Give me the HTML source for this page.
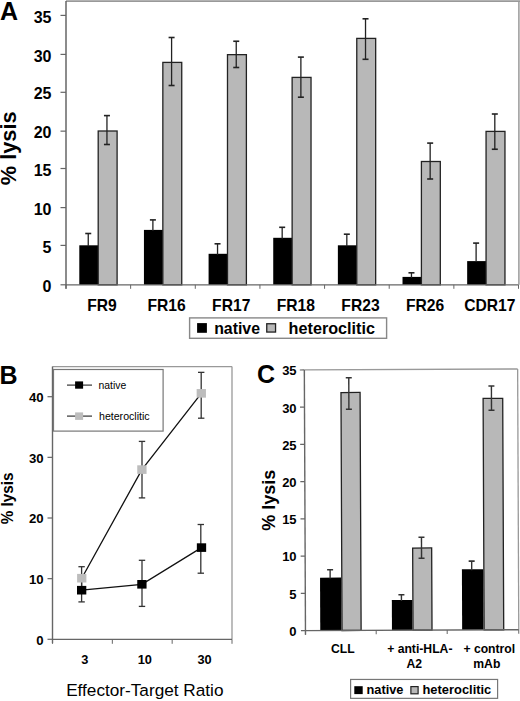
<!DOCTYPE html>
<html><head><meta charset="utf-8"><style>
html,body{margin:0;padding:0;background:#fff;}
body{width:520px;height:701px;overflow:hidden;}
svg{display:block;font-family:"Liberation Sans", sans-serif;}
</style></head><body>
<svg width="520" height="701" viewBox="0 0 520 701" font-family='"Liberation Sans", sans-serif' fill="#000">
<rect width="520" height="701" fill="#fff"/>
<line x1="66" y1="1.1" x2="520" y2="1.1" stroke="#999" stroke-width="1.6"/>
<line x1="518.9" y1="1.1" x2="518.9" y2="284.8" stroke="#999" stroke-width="1.5"/>
<rect x="79.30" y="245.30" width="18.9" height="39.50" fill="#000"/>
<line x1="88.25" y1="233.50" x2="88.25" y2="246.30" stroke="#222" stroke-width="1.3"/>
<line x1="85.25" y1="233.50" x2="91.25" y2="233.50" stroke="#222" stroke-width="1.6"/>
<rect x="98.20" y="131.00" width="18.9" height="153.80" fill="#b8b8b8" stroke="#222" stroke-width="1.3"/>
<line x1="106.95" y1="115.60" x2="106.95" y2="144.50" stroke="#222" stroke-width="1.3"/>
<line x1="103.95" y1="115.60" x2="109.95" y2="115.60" stroke="#222" stroke-width="1.6"/>
<line x1="103.95" y1="144.50" x2="109.95" y2="144.50" stroke="#222" stroke-width="1.6"/>
<text transform="translate(101.92,311.1)" font-size="15.65" font-weight="bold" text-anchor="middle">FR9</text>
<rect x="143.94" y="229.90" width="18.9" height="54.90" fill="#000"/>
<line x1="152.89" y1="219.90" x2="152.89" y2="230.90" stroke="#222" stroke-width="1.3"/>
<line x1="149.89" y1="219.90" x2="155.89" y2="219.90" stroke="#222" stroke-width="1.6"/>
<rect x="162.84" y="62.40" width="18.9" height="222.40" fill="#b8b8b8" stroke="#222" stroke-width="1.3"/>
<line x1="171.59" y1="37.50" x2="171.59" y2="85.50" stroke="#222" stroke-width="1.3"/>
<line x1="168.59" y1="37.50" x2="174.59" y2="37.50" stroke="#222" stroke-width="1.6"/>
<line x1="168.59" y1="85.50" x2="174.59" y2="85.50" stroke="#222" stroke-width="1.6"/>
<text transform="translate(166.56,311.1)" font-size="15.65" font-weight="bold" text-anchor="middle">FR16</text>
<rect x="208.59" y="253.80" width="18.9" height="31.00" fill="#000"/>
<line x1="217.54" y1="243.80" x2="217.54" y2="254.80" stroke="#222" stroke-width="1.3"/>
<line x1="214.54" y1="243.80" x2="220.54" y2="243.80" stroke="#222" stroke-width="1.6"/>
<rect x="227.49" y="54.65" width="18.9" height="230.15" fill="#b8b8b8" stroke="#222" stroke-width="1.3"/>
<line x1="236.24" y1="41.25" x2="236.24" y2="67.50" stroke="#222" stroke-width="1.3"/>
<line x1="233.24" y1="41.25" x2="239.24" y2="41.25" stroke="#222" stroke-width="1.6"/>
<line x1="233.24" y1="67.50" x2="239.24" y2="67.50" stroke="#222" stroke-width="1.6"/>
<text transform="translate(231.21,311.1)" font-size="15.65" font-weight="bold" text-anchor="middle">FR17</text>
<rect x="273.23" y="237.80" width="18.9" height="47.00" fill="#000"/>
<line x1="282.18" y1="227.30" x2="282.18" y2="238.80" stroke="#222" stroke-width="1.3"/>
<line x1="279.18" y1="227.30" x2="285.18" y2="227.30" stroke="#222" stroke-width="1.6"/>
<rect x="292.13" y="77.40" width="18.9" height="207.40" fill="#b8b8b8" stroke="#222" stroke-width="1.3"/>
<line x1="300.88" y1="57.10" x2="300.88" y2="97.20" stroke="#222" stroke-width="1.3"/>
<line x1="297.88" y1="57.10" x2="303.88" y2="57.10" stroke="#222" stroke-width="1.6"/>
<line x1="297.88" y1="97.20" x2="303.88" y2="97.20" stroke="#222" stroke-width="1.6"/>
<text transform="translate(295.85,311.1)" font-size="15.65" font-weight="bold" text-anchor="middle">FR18</text>
<rect x="337.87" y="245.30" width="18.9" height="39.50" fill="#000"/>
<line x1="346.82" y1="234.20" x2="346.82" y2="246.30" stroke="#222" stroke-width="1.3"/>
<line x1="343.82" y1="234.20" x2="349.82" y2="234.20" stroke="#222" stroke-width="1.6"/>
<rect x="356.77" y="38.40" width="18.9" height="246.40" fill="#b8b8b8" stroke="#222" stroke-width="1.3"/>
<line x1="365.52" y1="18.80" x2="365.52" y2="59.30" stroke="#222" stroke-width="1.3"/>
<line x1="362.52" y1="18.80" x2="368.52" y2="18.80" stroke="#222" stroke-width="1.6"/>
<line x1="362.52" y1="59.30" x2="368.52" y2="59.30" stroke="#222" stroke-width="1.6"/>
<text transform="translate(360.49,311.1)" font-size="15.65" font-weight="bold" text-anchor="middle">FR23</text>
<rect x="402.51" y="276.90" width="18.9" height="7.90" fill="#000"/>
<line x1="411.46" y1="272.80" x2="411.46" y2="277.90" stroke="#222" stroke-width="1.3"/>
<line x1="408.46" y1="272.80" x2="414.46" y2="272.80" stroke="#222" stroke-width="1.6"/>
<rect x="421.41" y="161.50" width="18.9" height="123.30" fill="#b8b8b8" stroke="#222" stroke-width="1.3"/>
<line x1="430.16" y1="143.10" x2="430.16" y2="179.00" stroke="#222" stroke-width="1.3"/>
<line x1="427.16" y1="143.10" x2="433.16" y2="143.10" stroke="#222" stroke-width="1.6"/>
<line x1="427.16" y1="179.00" x2="433.16" y2="179.00" stroke="#222" stroke-width="1.6"/>
<text transform="translate(425.14,311.1)" font-size="15.65" font-weight="bold" text-anchor="middle">FR26</text>
<rect x="467.16" y="261.10" width="18.9" height="23.70" fill="#000"/>
<line x1="476.11" y1="243.10" x2="476.11" y2="262.10" stroke="#222" stroke-width="1.3"/>
<line x1="473.11" y1="243.10" x2="479.11" y2="243.10" stroke="#222" stroke-width="1.6"/>
<rect x="486.06" y="131.40" width="18.9" height="153.40" fill="#b8b8b8" stroke="#222" stroke-width="1.3"/>
<line x1="494.81" y1="114.00" x2="494.81" y2="149.25" stroke="#222" stroke-width="1.3"/>
<line x1="491.81" y1="114.00" x2="497.81" y2="114.00" stroke="#222" stroke-width="1.6"/>
<line x1="491.81" y1="149.25" x2="497.81" y2="149.25" stroke="#222" stroke-width="1.6"/>
<text transform="translate(489.78,311.1)" font-size="15.65" font-weight="bold" text-anchor="middle">CDR17</text>
<line x1="66" y1="1.1" x2="66" y2="288.8" stroke="#666" stroke-width="1.5"/>
<line x1="66" y1="284.8" x2="518.5" y2="284.8" stroke="#666" stroke-width="1.3"/>
<line x1="66.00" y1="284.8" x2="66.00" y2="288.8" stroke="#666" stroke-width="1"/>
<line x1="130.64" y1="284.8" x2="130.64" y2="288.8" stroke="#666" stroke-width="1"/>
<line x1="195.29" y1="284.8" x2="195.29" y2="288.8" stroke="#666" stroke-width="1"/>
<line x1="259.93" y1="284.8" x2="259.93" y2="288.8" stroke="#666" stroke-width="1"/>
<line x1="324.57" y1="284.8" x2="324.57" y2="288.8" stroke="#666" stroke-width="1"/>
<line x1="389.21" y1="284.8" x2="389.21" y2="288.8" stroke="#666" stroke-width="1"/>
<line x1="453.86" y1="284.8" x2="453.86" y2="288.8" stroke="#666" stroke-width="1"/>
<line x1="518.50" y1="284.8" x2="518.50" y2="288.8" stroke="#666" stroke-width="1"/>
<line x1="60.5" y1="284.80" x2="66" y2="284.80" stroke="#666" stroke-width="1.2"/>
<text x="51.5" y="291.90" font-size="16" font-weight="bold" text-anchor="end">0</text>
<line x1="60.5" y1="245.40" x2="66" y2="245.40" stroke="#666" stroke-width="1.2"/>
<text x="51.5" y="252.50" font-size="16" font-weight="bold" text-anchor="end">5</text>
<line x1="60.5" y1="207.60" x2="66" y2="207.60" stroke="#666" stroke-width="1.2"/>
<text x="51.5" y="214.70" font-size="16" font-weight="bold" text-anchor="end">10</text>
<line x1="60.5" y1="168.50" x2="66" y2="168.50" stroke="#666" stroke-width="1.2"/>
<text x="51.5" y="175.60" font-size="16" font-weight="bold" text-anchor="end">15</text>
<line x1="60.5" y1="131.15" x2="66" y2="131.15" stroke="#666" stroke-width="1.2"/>
<text x="51.5" y="138.25" font-size="16" font-weight="bold" text-anchor="end">20</text>
<line x1="60.5" y1="92.30" x2="66" y2="92.30" stroke="#666" stroke-width="1.2"/>
<text x="51.5" y="99.40" font-size="16" font-weight="bold" text-anchor="end">25</text>
<line x1="60.5" y1="54.40" x2="66" y2="54.40" stroke="#666" stroke-width="1.2"/>
<text x="51.5" y="61.50" font-size="16" font-weight="bold" text-anchor="end">30</text>
<line x1="60.5" y1="15.40" x2="66" y2="15.40" stroke="#666" stroke-width="1.2"/>
<text x="51.5" y="22.50" font-size="16" font-weight="bold" text-anchor="end">35</text>
<text transform="translate(15.9,148.3) rotate(-90)" font-size="21.8" font-weight="bold" text-anchor="middle">% lysis</text>
<text x="0" y="19.7" font-size="25" font-weight="bold">A</text>
<rect x="189.6" y="317.9" width="197" height="20.4" fill="#fff" stroke="#888" stroke-width="1.4"/>
<rect x="197.1" y="323.1" width="9.8" height="9.7" fill="#000"/>
<text x="214.2" y="333.6" font-size="15.85" font-weight="bold">native</text>
<rect x="266.75" y="323.75" width="8.8" height="8.3" fill="#b8b8b8" stroke="#222" stroke-width="1.3"/>
<text x="288.6" y="333.6" font-size="16.2" font-weight="bold">heteroclitic</text>
<line x1="52.5" y1="366.6" x2="232" y2="366.6" stroke="#999" stroke-width="1.3"/>
<line x1="232" y1="366.6" x2="232" y2="639.3" stroke="#999" stroke-width="1.3"/>
<line x1="52.5" y1="366.6" x2="52.5" y2="643.3" stroke="#666" stroke-width="1.4"/>
<line x1="52.5" y1="639.3" x2="232" y2="639.3" stroke="#666" stroke-width="1.3"/>
<line x1="52.50" y1="639.3" x2="52.50" y2="643.8" stroke="#666" stroke-width="1"/>
<line x1="112.33" y1="639.3" x2="112.33" y2="643.8" stroke="#666" stroke-width="1"/>
<line x1="172.17" y1="639.3" x2="172.17" y2="643.8" stroke="#666" stroke-width="1"/>
<line x1="232.00" y1="639.3" x2="232.00" y2="643.8" stroke="#666" stroke-width="1"/>
<line x1="47.5" y1="639.30" x2="52.5" y2="639.30" stroke="#666" stroke-width="1.2"/>
<text x="43.6" y="644.50" font-size="13.2" font-weight="bold" text-anchor="end">0</text>
<line x1="47.5" y1="578.65" x2="52.5" y2="578.65" stroke="#666" stroke-width="1.2"/>
<text x="43.6" y="583.85" font-size="13.2" font-weight="bold" text-anchor="end">10</text>
<line x1="47.5" y1="518.00" x2="52.5" y2="518.00" stroke="#666" stroke-width="1.2"/>
<text x="43.6" y="523.20" font-size="13.2" font-weight="bold" text-anchor="end">20</text>
<line x1="47.5" y1="457.35" x2="52.5" y2="457.35" stroke="#666" stroke-width="1.2"/>
<text x="43.6" y="462.55" font-size="13.2" font-weight="bold" text-anchor="end">30</text>
<line x1="47.5" y1="396.70" x2="52.5" y2="396.70" stroke="#666" stroke-width="1.2"/>
<text x="43.6" y="401.90" font-size="13.2" font-weight="bold" text-anchor="end">40</text>
<text x="84.92" y="664" font-size="12.8" font-weight="bold" text-anchor="middle">3</text>
<text x="144.75" y="664" font-size="12.8" font-weight="bold" text-anchor="middle">10</text>
<text x="204.58" y="664" font-size="12.8" font-weight="bold" text-anchor="middle">30</text>
<text x="144.8" y="696" font-size="17.2" text-anchor="middle">Effector-Target Ratio</text>
<text transform="translate(12.6,498.4) rotate(-90) scale(1,1.1)" font-size="15.3" font-weight="bold" text-anchor="middle">% lysis</text>
<text x="-0.5" y="383.7" font-size="25" font-weight="bold">B</text>
<polyline points="81.65,590.2 141.9,584.3 201.5,547.6" fill="none" stroke="#111" stroke-width="1.3"/>
<polyline points="81.75,578.2 141.9,469.6 201.3,393.35" fill="none" stroke="#111" stroke-width="1.3"/>
<line x1="81.6" y1="578.5" x2="81.6" y2="601.9" stroke="#333" stroke-width="1.3"/>
<line x1="78.40" y1="578.5" x2="84.80" y2="578.5" stroke="#333" stroke-width="1.3"/>
<line x1="78.40" y1="601.9" x2="84.80" y2="601.9" stroke="#333" stroke-width="1.3"/>
<line x1="142" y1="560.3" x2="142" y2="606.4" stroke="#333" stroke-width="1.3"/>
<line x1="138.80" y1="560.3" x2="145.20" y2="560.3" stroke="#333" stroke-width="1.3"/>
<line x1="138.80" y1="606.4" x2="145.20" y2="606.4" stroke="#333" stroke-width="1.3"/>
<line x1="200.8" y1="524.5" x2="200.8" y2="573.2" stroke="#333" stroke-width="1.3"/>
<line x1="197.60" y1="524.5" x2="204.00" y2="524.5" stroke="#333" stroke-width="1.3"/>
<line x1="197.60" y1="573.2" x2="204.00" y2="573.2" stroke="#333" stroke-width="1.3"/>
<line x1="81.6" y1="566.7" x2="81.6" y2="589.7" stroke="#333" stroke-width="1.3"/>
<line x1="78.40" y1="566.7" x2="84.80" y2="566.7" stroke="#333" stroke-width="1.3"/>
<line x1="78.40" y1="589.7" x2="84.80" y2="589.7" stroke="#333" stroke-width="1.3"/>
<line x1="142" y1="441.4" x2="142" y2="497.9" stroke="#333" stroke-width="1.3"/>
<line x1="138.80" y1="441.4" x2="145.20" y2="441.4" stroke="#333" stroke-width="1.3"/>
<line x1="138.80" y1="497.9" x2="145.20" y2="497.9" stroke="#333" stroke-width="1.3"/>
<line x1="201.2" y1="372.35" x2="201.2" y2="418.2" stroke="#333" stroke-width="1.3"/>
<line x1="198.00" y1="372.35" x2="204.40" y2="372.35" stroke="#333" stroke-width="1.3"/>
<line x1="198.00" y1="418.2" x2="204.40" y2="418.2" stroke="#333" stroke-width="1.3"/>
<rect x="77.10" y="573.90" width="9.3" height="8.6" fill="#bdbdbd"/>
<rect x="137.25" y="465.30" width="9.3" height="8.6" fill="#bdbdbd"/>
<rect x="196.65" y="389.05" width="9.3" height="8.6" fill="#bdbdbd"/>
<rect x="77.00" y="585.90" width="9.3" height="8.6" fill="#000"/>
<rect x="137.25" y="580.00" width="9.3" height="8.6" fill="#000"/>
<rect x="196.85" y="543.30" width="9.3" height="8.6" fill="#000"/>
<rect x="53.5" y="369.5" width="109.6" height="61.6" fill="#fff" stroke="#777" stroke-width="1.2"/>
<line x1="67" y1="385.1" x2="92" y2="385.1" stroke="#333" stroke-width="1.2"/>
<rect x="75.1" y="381.4" width="8" height="7.3" fill="#000"/>
<text x="98.5" y="388.6" font-size="10.4">native</text>
<line x1="67" y1="416.1" x2="92" y2="416.1" stroke="#333" stroke-width="1.2"/>
<rect x="75.1" y="412.4" width="8" height="7.5" fill="#bdbdbd"/>
<text x="99" y="419.6" font-size="10.6">heteroclitic</text>
<g transform="rotate(-0.25 410 500)">
<line x1="304.9" y1="369.45" x2="518.2" y2="369.45" stroke="#999" stroke-width="1.3"/>
<line x1="518.2" y1="369.45" x2="518.2" y2="630.2" stroke="#999" stroke-width="1.3"/>
<rect x="319.7" y="577.25" width="21.10" height="52.95" fill="#000"/>
<line x1="329.8" y1="569.45" x2="329.8" y2="578.25" stroke="#333" stroke-width="1.4"/>
<line x1="326.8" y1="569.45" x2="332.8" y2="569.45" stroke="#333" stroke-width="1.6"/>
<rect x="341.45" y="392.24" width="19.10" height="237.96" fill="#b8b8b8" stroke="#222" stroke-width="1.3"/>
<line x1="349.3" y1="377.54" x2="349.3" y2="409.04" stroke="#333" stroke-width="1.4"/>
<line x1="346.3" y1="377.54" x2="352.3" y2="377.54" stroke="#333" stroke-width="1.6"/>
<line x1="346.3" y1="409.04" x2="352.3" y2="409.04" stroke="#333" stroke-width="1.6"/>
<rect x="391.4" y="599.97" width="20.40" height="30.23" fill="#000"/>
<line x1="401.0" y1="594.77" x2="401.0" y2="600.97" stroke="#333" stroke-width="1.4"/>
<line x1="398.0" y1="594.77" x2="404.0" y2="594.77" stroke="#333" stroke-width="1.6"/>
<rect x="412.45" y="548.05" width="19.00" height="82.15" fill="#b8b8b8" stroke="#222" stroke-width="1.3"/>
<line x1="421.3" y1="537.35" x2="421.3" y2="558.35" stroke="#333" stroke-width="1.4"/>
<line x1="418.3" y1="537.35" x2="424.3" y2="537.35" stroke="#333" stroke-width="1.6"/>
<line x1="418.3" y1="558.35" x2="424.3" y2="558.35" stroke="#333" stroke-width="1.6"/>
<rect x="461.6" y="569.47" width="21.30" height="60.73" fill="#000"/>
<line x1="471.4" y1="561.37" x2="471.4" y2="570.47" stroke="#333" stroke-width="1.4"/>
<line x1="468.4" y1="561.37" x2="474.4" y2="561.37" stroke="#333" stroke-width="1.6"/>
<rect x="483.55" y="398.76" width="19.60" height="231.44" fill="#b8b8b8" stroke="#222" stroke-width="1.3"/>
<line x1="491.9" y1="386.36" x2="491.9" y2="410.66" stroke="#333" stroke-width="1.4"/>
<line x1="488.9" y1="386.36" x2="494.9" y2="386.36" stroke="#333" stroke-width="1.6"/>
<line x1="488.9" y1="410.66" x2="494.9" y2="410.66" stroke="#333" stroke-width="1.6"/>
<line x1="304.9" y1="369.45" x2="304.9" y2="634.2" stroke="#666" stroke-width="1.4"/>
<line x1="304.9" y1="630.2" x2="518.2" y2="630.2" stroke="#666" stroke-width="1.3"/>
<line x1="304.90" y1="630.2" x2="304.90" y2="634.2" stroke="#666" stroke-width="1"/>
<line x1="375.60" y1="630.2" x2="375.60" y2="634.2" stroke="#666" stroke-width="1"/>
<line x1="446.60" y1="630.2" x2="446.60" y2="634.2" stroke="#666" stroke-width="1"/>
<line x1="518.20" y1="630.2" x2="518.20" y2="634.2" stroke="#666" stroke-width="1"/>
<line x1="300.4" y1="630.20" x2="304.9" y2="630.20" stroke="#666" stroke-width="1.2"/>
<line x1="300.4" y1="592.96" x2="304.9" y2="592.96" stroke="#666" stroke-width="1.2"/>
<line x1="300.4" y1="555.71" x2="304.9" y2="555.71" stroke="#666" stroke-width="1.2"/>
<line x1="300.4" y1="518.47" x2="304.9" y2="518.47" stroke="#666" stroke-width="1.2"/>
<line x1="300.4" y1="481.23" x2="304.9" y2="481.23" stroke="#666" stroke-width="1.2"/>
<line x1="300.4" y1="443.99" x2="304.9" y2="443.99" stroke="#666" stroke-width="1.2"/>
<line x1="300.4" y1="406.74" x2="304.9" y2="406.74" stroke="#666" stroke-width="1.2"/>
<line x1="300.4" y1="369.50" x2="304.9" y2="369.50" stroke="#666" stroke-width="1.2"/>
</g>
<text x="296.6" y="635.98" font-size="13" font-weight="bold" text-anchor="end">0</text>
<text x="296.6" y="598.74" font-size="13" font-weight="bold" text-anchor="end">5</text>
<text x="296.6" y="561.49" font-size="13" font-weight="bold" text-anchor="end">10</text>
<text x="296.6" y="524.25" font-size="13" font-weight="bold" text-anchor="end">15</text>
<text x="296.6" y="487.01" font-size="13" font-weight="bold" text-anchor="end">20</text>
<text x="296.6" y="449.77" font-size="13" font-weight="bold" text-anchor="end">25</text>
<text x="296.6" y="412.52" font-size="13" font-weight="bold" text-anchor="end">30</text>
<text x="296.6" y="375.28" font-size="13" font-weight="bold" text-anchor="end">35</text>
<text transform="translate(275.1,500.2) rotate(-90)" font-size="18" font-weight="bold" text-anchor="middle">% lysis</text>
<text x="256.9" y="383.4" font-size="25" font-weight="bold">C</text>
<text x="342.9" y="653.3" font-size="12.2" font-weight="bold" text-anchor="middle">CLL</text>
<text x="419.8" y="653.3" font-size="12.2" font-weight="bold" text-anchor="middle">+ anti-HLA-</text>
<text x="414.3" y="667.6" font-size="12.2" font-weight="bold" text-anchor="middle">A2</text>
<text x="489.3" y="653.3" font-size="12.2" font-weight="bold" text-anchor="middle">+ control</text>
<text x="486.8" y="667.6" font-size="12.2" font-weight="bold" text-anchor="middle">mAb</text>
<rect x="350.6" y="679.45" width="147" height="18.9" fill="#fff" stroke="#777" stroke-width="1.2"/>
<rect x="354.3" y="686.2" width="8.4" height="7.9" fill="#000"/>
<text x="366.5" y="694.1" font-size="12.8" font-weight="bold">native</text>
<rect x="410.9" y="686.6" width="7.2" height="7.2" fill="#b8b8b8" stroke="#222" stroke-width="1.2"/>
<text x="422.5" y="694.1" font-size="12.9" font-weight="bold">heteroclitic</text>
</svg>
</body></html>
